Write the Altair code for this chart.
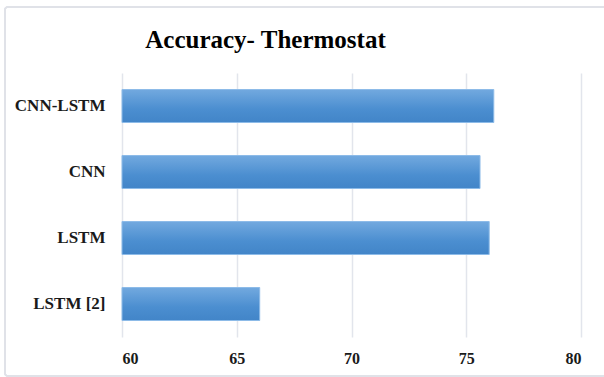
import altair as alt
import pandas as pd

# Accuracy of each model on the Thermostat data
models = ["CNN-LSTM", "CNN", "LSTM", "LSTM [2]"]
accuracy = [76.2, 75.6, 76.0, 66.0]

x_ticks = [60, 65, 70, 75, 80]
x_min, x_max = 60, 80

df = pd.DataFrame({"model": models, "accuracy": accuracy})

FONT = "Liberation Serif"

bar_fill = alt.Gradient(
    gradient="linear",
    stops=[
        alt.GradientStop(color="#72a9df", offset=0),
        alt.GradientStop(color="#4b8ed0", offset=0.6),
        alt.GradientStop(color="#4285c8", offset=1),
    ],
    x1=0, x2=0, y1=0, y2=1,
)

bars = alt.Chart(df).mark_bar(
    fill=bar_fill, stroke="#8dbbe8", strokeWidth=1
).encode(
    x=alt.X(
        "accuracy:Q",
        scale=alt.Scale(domain=[x_min, x_max], zero=False, nice=False),
        axis=alt.Axis(
            values=x_ticks, title=None, domain=False, ticks=False,
            grid=True, gridColor="#e2e5ec", gridWidth=1.5,
            labelFont=FONT, labelFontSize=16, labelFontWeight="bold",
            labelColor="#1a1a1a", labelPadding=13,
        ),
    ),
    x2=alt.datum(x_min),
    y=alt.Y(
        "model:N",
        sort=models,
        scale=alt.Scale(paddingInner=0.5, paddingOuter=0.25),
        axis=alt.Axis(
            title=None, domain=False, ticks=False, grid=False,
            labelFont=FONT, labelFontSize=17, labelFontWeight="bold",
            labelColor="#1a1a1a", labelPadding=17,
        ),
    ),
)

# light rounded frame around the whole chart
frame = alt.Chart(df).mark_rect(
    fillOpacity=0, stroke="#e0e2e8", strokeWidth=1.5, cornerRadius=3, clip=False
).encode(
    x=alt.value(-117), x2=alt.value(520),
    y=alt.value(-66), y2=alt.value(303),
)

chart = alt.layer(frame, bars).properties(
    width=459,
    height=264,
    padding={"left": 122, "top": 73, "right": 23, "bottom": 40},
    autosize="none",
    title=alt.TitleParams(
        "Accuracy- Thermostat",
        font=FONT, fontSize=25, fontWeight="bold", color="#000000",
        anchor="middle", baseline="alphabetic", offset=0, dx=-86, dy=67,
    ),
).configure_view(stroke=None)

chart.save("out.html", embed_options={"renderer": "svg", "actions": False})
